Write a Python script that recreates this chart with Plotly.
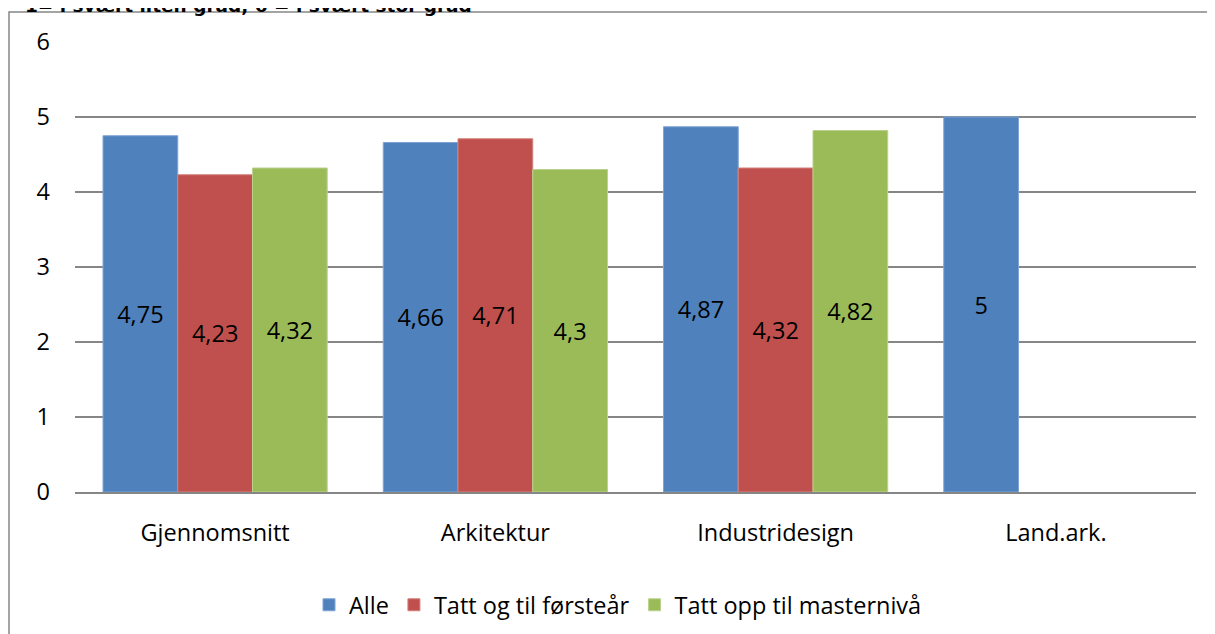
import plotly.graph_objects as go

categories = ["Gjennomsnitt", "Arkitektur", "Industridesign", "Land.ark."]
alle = [4.75, 4.66, 4.87, 5]
forsteaar = [4.23, 4.71, 4.32, None]
master = [4.32, 4.3, 4.82, None]
series_names = ["Alle", "Tatt og til førsteår", "Tatt opp til masternivå"]
colors = ["#4F81BD", "#C0504D", "#9BBB59"]
line_colors = ["#7FA4D3", "#D4807E", "#BBD28D"]
y_ticks = [0, 1, 2, 3, 4, 5, 6]
title_text = "1= i svært liten grad, 6 = i svært stor grad"

FONT = "Open Sans, Carlito, Calibri, sans-serif"
FS = 23.5


def fmt(v):
    if v is None:
        return ""
    return ("%g" % v).replace(".", ",")


fig = go.Figure()
for name, vals, c, lc in zip(series_names, [alle, forsteaar, master], colors, line_colors):
    fig.add_trace(go.Bar(
        x=categories, y=vals, name=name,
        marker=dict(color=c, line=dict(color=lc, width=1)),
        text=[fmt(v) for v in vals],
        textposition="inside", insidetextanchor="middle",
        textangle=0, constraintext="none",
        textfont=dict(family=FONT, size=FS, color="#000000"),
        hoverinfo="skip",
    ))

# page body has an 8px margin; work in page pixels and shift
OFF = 8
W, H = 1215 - OFF, 634 - OFF
plot_left, plot_right, plot_top, plot_bottom = 75, 1196, 42, 492  # page px
ml = plot_left - OFF
mr = (W + OFF) - plot_right
mt = plot_top - OFF
mb = (H + OFF) - plot_bottom
pw = plot_right - plot_left
ph = plot_bottom - plot_top


def px_x(px):
    return (px - plot_left) / pw


def px_y(py):
    return (plot_bottom - py) / ph


fig.update_layout(
    width=W, height=H,
    margin=dict(l=ml, r=mr, t=mt, b=mb, autoexpand=False),
    paper_bgcolor="white", plot_bgcolor="white",
    barmode="group", bargap=0.2, bargroupgap=0,
    font=dict(family=FONT, size=FS, color="#000000"),
    showlegend=True,
    legend=dict(orientation="h", x=px_x(618), xanchor="center", y=px_y(605), yanchor="middle",
                font=dict(family=FONT, size=FS), traceorder="normal"),
    xaxis=dict(showgrid=False, showline=True, linecolor="#868686", linewidth=1.5,
               ticks="", tickfont=dict(family=FONT, size=FS), ticklabelstandoff=19,
               fixedrange=True),
    yaxis=dict(range=[0, 6], tickvals=y_ticks, showgrid=True, gridcolor="#868686",
               gridwidth=1.5, zeroline=False, showline=False, ticks="",
               tickfont=dict(family=FONT, size=FS), ticklabelstandoff=24,
               fixedrange=True),
    shapes=[
        dict(type="rect", xref="paper", yref="paper",
             x0=px_x(9), x1=px_x(1260), y0=px_y(680), y1=px_y(12),
             line=dict(color="#868686", width=1.5), fillcolor="rgba(0,0,0,0)", layer="below"),
    ],
    annotations=[
        dict(text="<b>" + title_text + "</b>", xref="paper", yref="paper",
             x=px_x(23), xanchor="left", y=px_y(18), yanchor="bottom",
             showarrow=False, font=dict(family="DejaVu Sans", size=18.5, color="#000000")),
    ],
)

fig.write_html("out.html")
